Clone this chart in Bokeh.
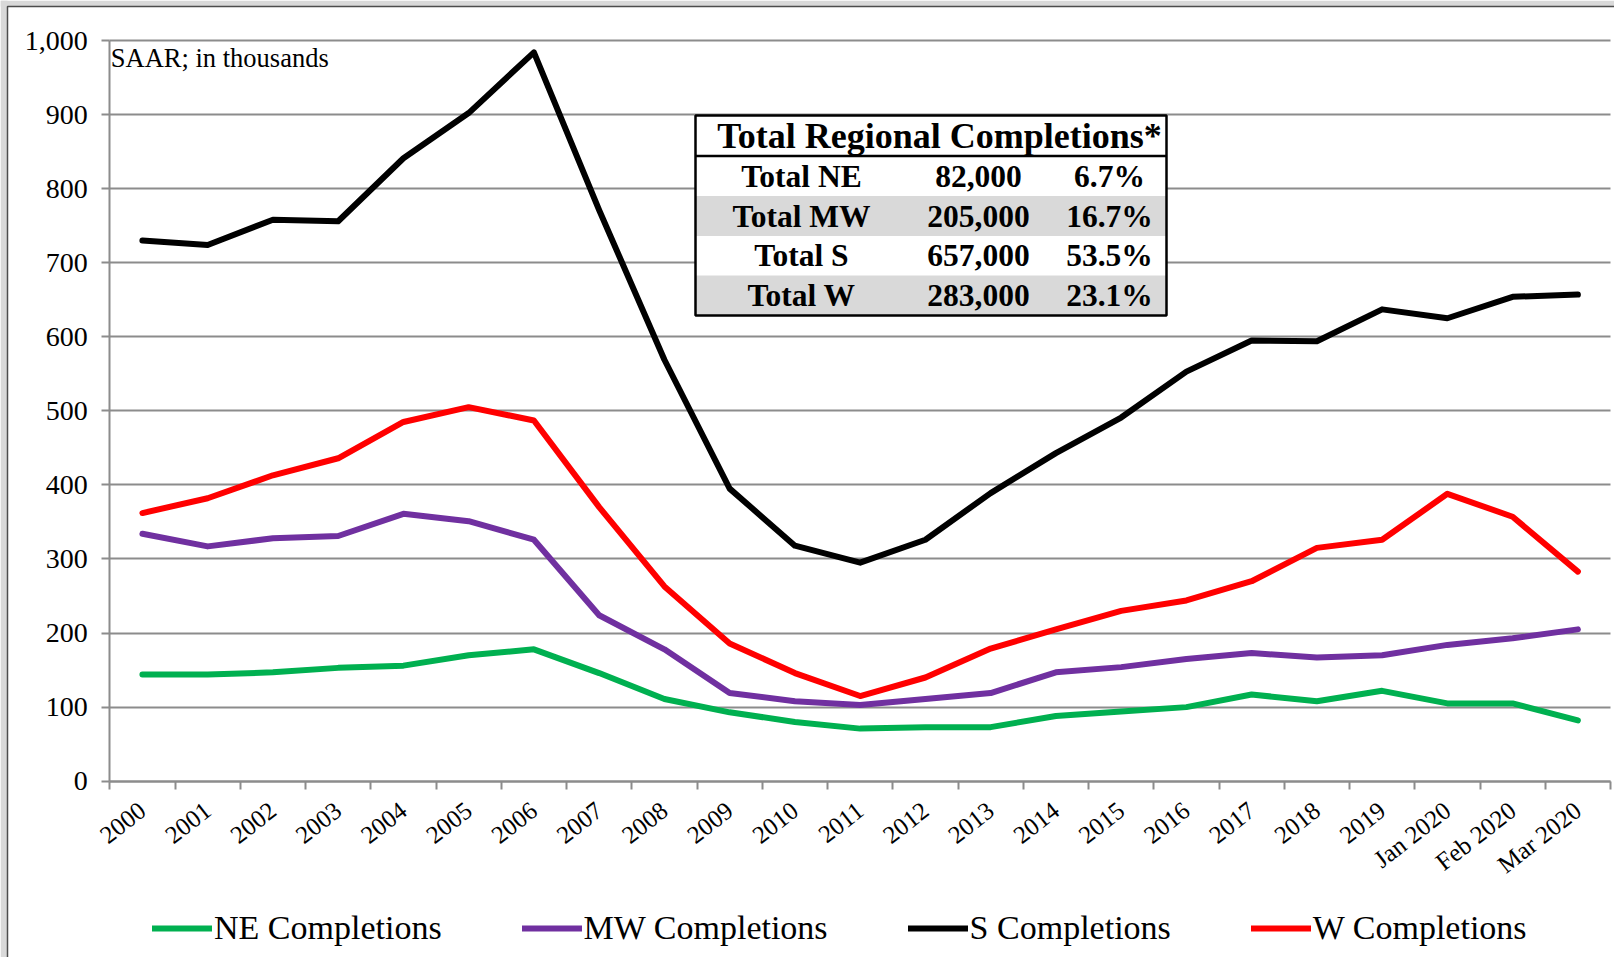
from bokeh.plotting import figure
from bokeh.models import (FixedTicker, NumeralTickFormatter, Legend, LegendItem,
                          BoxAnnotation, Label, Range1d, ColumnDataSource)
from bokeh.core.properties import value
from bokeh.embed import file_html
from bokeh.resources import INLINE
import math

# ---------------- data ----------------
categories = ["2000", "2001", "2002", "2003", "2004", "2005", "2006", "2007",
              "2008", "2009", "2010", "2011", "2012", "2013", "2014", "2015",
              "2016", "2017", "2018", "2019", "Jan 2020", "Feb 2020", "Mar 2020"]

ne_completions = [144, 144, 147, 153, 156, 170, 178, 146, 111, 93, 80, 71,
                  73, 73, 88, 94, 100, 117, 108, 122, 105, 105, 82]
mw_completions = [334, 317, 328, 331, 361, 351, 326, 224, 178, 119, 108, 103,
                  111, 119, 147, 154, 165, 173, 167, 170, 184, 193, 205]
s_completions = [730, 724, 758, 756, 841, 902, 984, 771, 569, 395, 318, 295,
                 326, 389, 443, 491, 553, 595, 594, 637, 625, 654, 657]
w_completions = [362, 382, 413, 436, 485, 505, 487, 370, 263, 186, 146, 115,
                 140, 179, 205, 230, 244, 270, 315, 326, 388, 357, 283]

series_names = ["NE Completions", "MW Completions", "S Completions", "W Completions"]
series_colors = ["#00B050", "#7030A0", "#000000", "#FF0000"]

y_ticks = [0, 100, 200, 300, 400, 500, 600, 700, 800, 900, 1000]

table_title = "Total Regional Completions*"
table_regions = ["Total NE", "Total MW", "Total S", "Total W"]
table_counts = ["82,000", "205,000", "657,000", "283,000"]
table_shares = ["6.7%", "16.7%", "53.5%", "23.1%"]

note_text = "SAAR; in thousands"

# ---------------- layout constants (page pixels) ----------------
FONT = "Liberation Serif"
FIG_W, FIG_H = 1614, 957
AX_L, AX_R = 109.3, 1610.0       # page x of the category axis ends
Y1000_PIX, Y0_PIX = 40.0, 780.7  # page y of values 1000 and 0
PX_PER_UNIT = (Y0_PIX - Y1000_PIX) / 1000.0

n = len(categories)
xs = list(range(n))
CAT_W = (AX_R - AX_L) / n


def dx(px):  # page pixel -> data x
    return (px - AX_L) / CAT_W - 0.5


def dy(py):  # page pixel -> data y
    return (Y0_PIX - py) / PX_PER_UNIT


# the frame fills the whole canvas; axes are pinned at x=-0.5 / y=0
p = figure(width=FIG_W, height=FIG_H, output_backend="svg", toolbar_location=None,
           x_range=Range1d(dx(0), dx(FIG_W)), y_range=Range1d(dy(FIG_H), dy(0)),
           min_border_left=0, min_border_right=0, min_border_top=0, min_border_bottom=0)
p.outline_line_color = None
p.background_fill_color = "white"
p.border_fill_color = "white"

GRID = "#8c8c8c"
# grid
p.xgrid.visible = False
p.ygrid.grid_line_color = GRID
p.ygrid.grid_line_width = 2
p.ygrid.ticker = FixedTicker(ticks=y_ticks)
p.ygrid.cross_bounds = (-0.5, n - 0.5)

# y axis
p.yaxis.fixed_location = -0.5
p.yaxis.ticker = FixedTicker(ticks=y_ticks)
p.yaxis.bounds = (0, 1000)
p.yaxis.formatter = NumeralTickFormatter(format="0,0")
p.yaxis.axis_line_color = GRID
p.yaxis.axis_line_width = 2
p.yaxis.major_tick_line_color = GRID
p.yaxis.major_tick_line_width = 2
p.yaxis.major_tick_out = 8
p.yaxis.major_tick_in = 0
p.yaxis.minor_tick_line_color = None
p.yaxis.major_label_standoff = 14
p.yaxis.major_label_text_font = FONT
p.yaxis.major_label_text_font_size = "28px"
p.yaxis.major_label_text_color = "black"

# x axis on value 0: labels at category centres, tick marks at boundaries
p.xaxis.fixed_location = 0
p.xaxis.bounds = (-0.5, n - 0.5)
p.xaxis.ticker = FixedTicker(ticks=xs, minor_ticks=[i - 0.5 for i in range(n + 1)])
p.xaxis.major_label_overrides = {i: c for i, c in enumerate(categories)}
p.xaxis.major_label_orientation = math.radians(38)
p.xaxis.axis_line_color = GRID
p.xaxis.axis_line_width = 2
p.xaxis.major_tick_line_color = None
p.xaxis.major_tick_out = 0
p.xaxis.major_tick_in = 0
p.xaxis.minor_tick_line_color = GRID
p.xaxis.minor_tick_line_width = 2
p.xaxis.minor_tick_out = 8
p.xaxis.minor_tick_in = 0
p.xaxis.major_label_standoff = 18
p.xaxis.major_label_text_font = FONT
p.xaxis.major_label_text_font_size = "25px"
p.xaxis.major_label_text_color = "black"

# picture background strips at the top-left and the chart border
p.add_layout(BoxAnnotation(left=dx(0), right=dx(7), top=dy(0), bottom=dy(FIG_H),
                           fill_color="#d9d9d9", fill_alpha=1, line_alpha=0, level="underlay"))
p.add_layout(BoxAnnotation(left=dx(0), right=dx(FIG_W), top=dy(0), bottom=dy(6),
                           fill_color="#d9d9d9", fill_alpha=1, line_alpha=0, level="underlay"))
p.add_layout(BoxAnnotation(left=dx(7), right=dx(FIG_W + 10), top=dy(6), bottom=dy(FIG_H + 10),
                           fill_alpha=0, line_color="#4d4d4d", line_alpha=1, line_width=1.5,
                           level="underlay"))

# series
renderers = []
for vals, name, col in zip([ne_completions, mw_completions, s_completions, w_completions],
                           series_names, series_colors):
    src = ColumnDataSource(dict(x=xs, y=vals))
    r = p.line("x", "y", source=src, line_color=col, line_width=6,
               line_join="round", line_cap="round")
    renderers.append(r)

# note
p.add_layout(Label(x=-0.5, y=dy(57.5), x_offset=1, text=note_text, text_font=FONT,
                   text_font_size="26.5px", text_color="black",
                   text_baseline="middle", text_align="left"))

# ---------------- table ----------------
t_left, t_right = dx(695), dx(1166)
row_edges = [115, 155.5, 195.5, 235.5, 275, 315]
row_y = [dy(v) for v in row_edges]

p.add_layout(BoxAnnotation(left=t_left, right=t_right, top=row_y[0], bottom=row_y[-1],
                           fill_color="white", fill_alpha=1, line_alpha=0))
for k in (2, 4):  # shaded rows (MW, W)
    p.add_layout(BoxAnnotation(left=t_left, right=t_right, top=row_y[k], bottom=row_y[k + 1],
                               fill_color="#D9D9D9", fill_alpha=1, line_alpha=0))
p.add_layout(BoxAnnotation(left=t_left, right=t_right, top=row_y[1], bottom=row_y[1],
                           fill_alpha=0, line_color="black", line_alpha=1, line_width=2.5))
p.add_layout(BoxAnnotation(left=t_left, right=t_right, top=row_y[0], bottom=row_y[-1],
                           fill_alpha=0, line_color="black", line_alpha=1, line_width=2.5))

title_src = ColumnDataSource(dict(x=[dx(939)], y=[dy(135.5)], t=[table_title]))
p.text("x", "y", text="t", source=title_src, text_font=value(FONT), text_font_style="bold",
       text_font_size="36px", text_align="center", text_baseline="middle", text_color="black",
       level="overlay")

centres = [dy((row_edges[i + 1] + row_edges[i + 2]) / 2) for i in range(4)]
col_x = [dx(801), dx(978), dx(1109)]
for cx, col in zip(col_x, [table_regions, table_counts, table_shares]):
    src = ColumnDataSource(dict(x=[cx] * 4, y=centres, t=col))
    p.text("x", "y", text="t", source=src, text_font=value(FONT), text_font_style="bold",
           text_font_size="31.5px", text_align="center", text_baseline="middle",
           text_color="black", level="overlay")

# ---------------- legend ----------------
legend = Legend(items=[LegendItem(label=nm, renderers=[r]) for nm, r in zip(series_names, renderers)],
                orientation="horizontal", location=(152, 10),
                label_text_font=FONT, label_text_font_size="34px", label_text_color="black",
                glyph_width=60, glyph_height=20, label_standoff=2, spacing=80,
                padding=0, margin=0, border_line_color=None, background_fill_alpha=0)
p.add_layout(legend)

open("out.html", "w").write(file_html(p, INLINE))
